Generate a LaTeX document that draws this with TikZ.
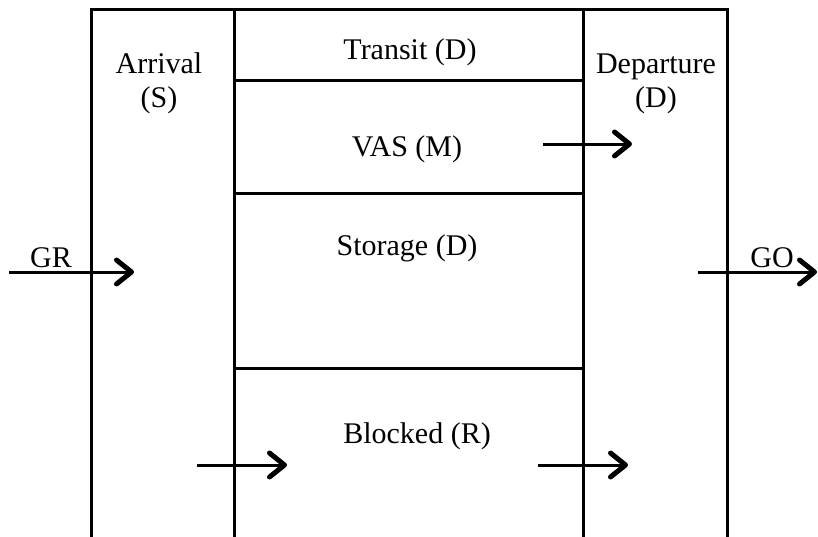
\documentclass[tikz,border=0pt]{standalone}
\usepackage{fontspec}
\setmainfont{Liberation Serif}
\usetikzlibrary{arrows.meta}
\begin{document}
\begin{tikzpicture}[x=1pt,y=-1pt,
  wall/.style={line width=3pt},
  flow/.style={line width=3pt,-{Straight Barb[length=15pt,width=24pt,line width=5pt,round]}},
  lbl/.style={anchor=base,inner sep=0pt,font=\fontsize{30}{34}\selectfont}]
\useasboundingbox (0,0) rectangle (818,536);
% outer frame and zone walls
\draw[wall] (91,537) -- (91,9) -- (727,9) -- (727,537);
\draw[wall] (234,9) -- (234,537);
\draw[wall] (583,9) -- (583,537);
\draw[wall] (234,80) -- (583,80);
\draw[wall] (234,193) -- (583,193);
\draw[wall] (234,368) -- (583,368);
% zone labels
\node[lbl] (arr1) at (159,73) {Arrival};
\node[lbl] (arr2) at (159,107) {(S)};
\node[lbl] (dep1) at (656,73) {Departure};
\node[lbl] (dep2) at (656,107) {(D)};
\node[lbl] (transit) at (410,59) {Transit (D)};
\node[lbl] (vas) at (407,156) {VAS (M)};
\node[lbl] (storage) at (407,255) {Storage (D)};
\node[lbl] (blocked) at (417,443) {Blocked (R)};
\node[lbl] (gr) at (51,267) {GR};
\node[lbl] (go) at (772,267) {GO};
% flow arrows
\coordinate (grs) at (9,272);   \coordinate (gre) at (134,272);
\coordinate (gos) at (698,272); \coordinate (goe) at (817,272);
\coordinate (vass) at (543,144); \coordinate (vase) at (632,144);
\coordinate (b1s) at (197,465); \coordinate (b1e) at (287,465);
\coordinate (b2s) at (538,465); \coordinate (b2e) at (628,465);
\draw[flow] (grs) -- (gre);
\draw[flow] (gos) -- (goe);
\draw[flow] (vass) -- (vase);
\draw[flow] (b1s) -- (b1e);
\draw[flow] (b2s) -- (b2e);
\end{tikzpicture}
\end{document}
